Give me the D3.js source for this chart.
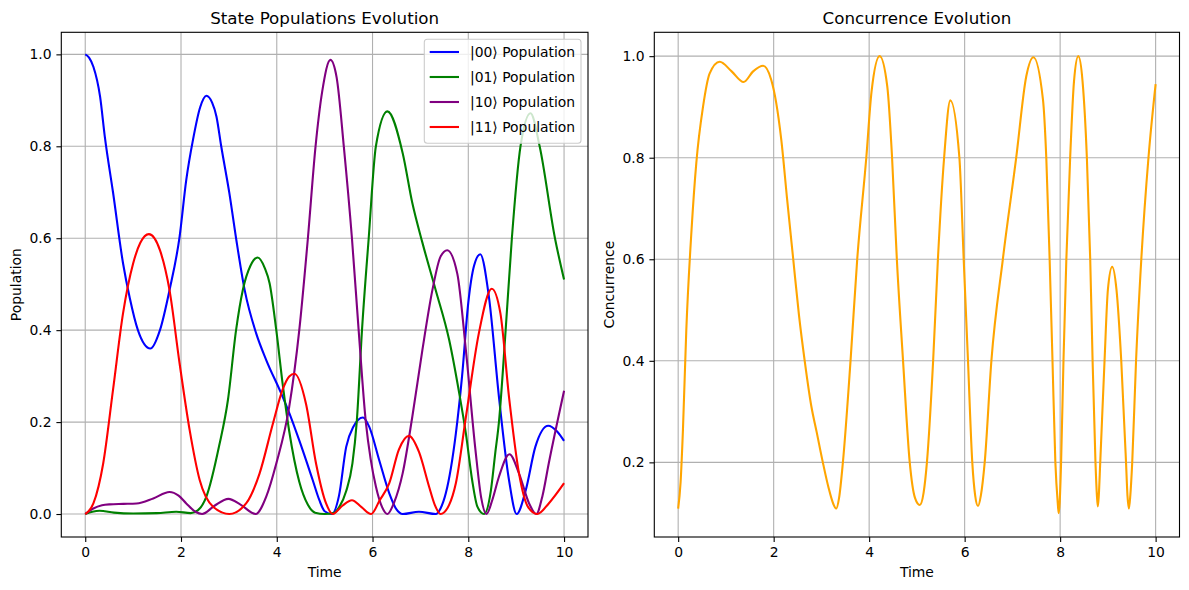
<!DOCTYPE html>
<html>
<head>
<meta charset="utf-8">
<script src="https://cdn.jsdelivr.net/npm/d3@7"></script>
<style>
  body { margin: 0; background: #fff; }
  svg { font-family: "DejaVu Sans", sans-serif; }
</style>
</head>
<body>
<div id="chart"></div>
<script>
// values, [time, value]
const pop00 = [[0,1.0],[0.08,0.993],[0.17,0.973],[0.31,0.908],[0.41,0.82],[0.58,0.70],[0.79,0.545],[0.93,0.47],[1.1,0.40],[1.36,0.36],[1.56,0.40],[1.76,0.487],[1.97,0.603],[2.11,0.727],[2.25,0.814],[2.4,0.885],[2.53,0.91],[2.65,0.895],[2.74,0.865],[2.84,0.8],[3.01,0.698],[3.15,0.6],[3.33,0.487],[3.57,0.393],[3.78,0.335],[4.09,0.263],[4.26,0.22],[4.47,0.16],[4.75,0.074],[4.89,0.03],[5.0,0.006],[5.15,0.0],[5.3,0.04],[5.45,0.146],[5.6,0.19],[5.8,0.21],[5.93,0.19],[6.14,0.117],[6.35,0.045],[6.5,0.01],[6.63,0.0],[6.97,0.005],[7.32,0.0],[7.42,0.012],[7.53,0.045],[7.74,0.175],[7.87,0.3],[8.0,0.46],[8.12,0.54],[8.25,0.565],[8.43,0.473],[8.64,0.255],[8.85,0.074],[9.01,0.0],[9.2,0.052],[9.4,0.146],[9.67,0.192],[9.85,0.18],[10,0.159]];
const pop01 = [[0,0],[0.15,0.005],[0.3,0.007],[0.6,0.003],[1.0,0.001],[1.5,0.002],[1.9,0.005],[2.2,0.002],[2.35,0.008],[2.53,0.038],[2.8,0.15],[2.98,0.248],[3.15,0.40],[3.29,0.487],[3.45,0.54],[3.6,0.558],[3.75,0.535],[3.85,0.502],[3.99,0.40],[4.13,0.277],[4.26,0.18],[4.47,0.07],[4.65,0.02],[4.8,0.003],[5.0,0.0],[5.2,0.003],[5.31,0.016],[5.45,0.05],[5.58,0.11],[5.67,0.2],[5.78,0.4],[5.92,0.6],[6.07,0.8],[6.31,0.876],[6.63,0.785],[6.83,0.677],[7.04,0.591],[7.32,0.487],[7.6,0.379],[7.81,0.263],[7.95,0.175],[8.08,0.074],[8.19,0.016],[8.33,0.0],[8.47,0.05],[8.56,0.13],[8.64,0.2],[8.78,0.4],[8.91,0.6],[9.09,0.8],[9.3,0.872],[9.49,0.8],[9.81,0.6],[10,0.51]];
const pop10 = [[0,0],[0.17,0.012],[0.35,0.019],[0.51,0.021],[0.8,0.022],[1.07,0.023],[1.42,0.034],[1.76,0.048],[1.95,0.04],[2.11,0.023],[2.3,0.005],[2.44,0.0],[2.7,0.018],[2.99,0.033],[3.25,0.02],[3.56,0.0],[3.78,0.038],[3.99,0.11],[4.26,0.233],[4.47,0.40],[4.65,0.6],[4.81,0.8],[4.95,0.92],[5.12,0.988],[5.25,0.95],[5.4,0.8],[5.57,0.6],[5.71,0.4],[5.86,0.2],[5.96,0.12],[6.07,0.06],[6.2,0.015],[6.31,0.0],[6.45,0.025],[6.63,0.089],[6.83,0.211],[7.04,0.356],[7.25,0.487],[7.42,0.56],[7.56,0.574],[7.77,0.523],[7.95,0.356],[8.15,0.139],[8.27,0.035],[8.38,0.0],[8.5,0.03],[8.64,0.081],[8.86,0.13],[9.06,0.088],[9.27,0.023],[9.42,0.0],[9.55,0.04],[9.68,0.11],[10,0.268]];
const pop11 = [[0,0],[0.17,0.023],[0.375,0.11],[0.58,0.27],[0.79,0.437],[1.0,0.545],[1.15,0.59],[1.33,0.609],[1.56,0.574],[1.76,0.487],[1.97,0.328],[2.18,0.183],[2.39,0.074],[2.67,0.016],[3.01,0.0],[3.36,0.023],[3.64,0.088],[3.92,0.197],[4.12,0.27],[4.26,0.299],[4.37,0.305],[4.61,0.24],[4.82,0.11],[5.03,0.023],[5.17,0.0],[5.37,0.018],[5.57,0.03],[5.77,0.015],[5.97,0.0],[6.15,0.03],[6.35,0.067],[6.55,0.14],[6.76,0.17],[6.97,0.135],[7.18,0.06],[7.3,0.02],[7.42,0.0],[7.6,0.02],[7.74,0.067],[7.95,0.211],[8.22,0.393],[8.49,0.49],[8.67,0.437],[8.85,0.255],[9.06,0.088],[9.25,0.015],[9.44,0.0],[9.68,0.023],[10,0.067]];
const concurrence = [[0,0.109],[0.05,0.16],[0.1,0.264],[0.17,0.46],[0.28,0.658],[0.38,0.79],[0.52,0.90],[0.66,0.966],[0.87,0.989],[1.12,0.97],[1.37,0.949],[1.57,0.97],[1.78,0.981],[1.95,0.953],[2.05,0.91],[2.16,0.835],[2.28,0.72],[2.41,0.6],[2.53,0.49],[2.65,0.4],[2.79,0.31],[2.9,0.26],[3.03,0.2],[3.15,0.15],[3.25,0.118],[3.31,0.109],[3.37,0.13],[3.45,0.2],[3.61,0.4],[3.75,0.6],[3.94,0.8],[4.05,0.93],[4.22,1.0],[4.38,0.94],[4.48,0.8],[4.58,0.6],[4.71,0.4],[4.85,0.2],[4.96,0.13],[5.06,0.116],[5.14,0.14],[5.21,0.2],[5.34,0.4],[5.44,0.6],[5.57,0.8],[5.7,0.913],[5.89,0.8],[5.98,0.6],[6.07,0.4],[6.16,0.2],[6.22,0.135],[6.28,0.114],[6.34,0.135],[6.42,0.2],[6.56,0.4],[6.8,0.6],[7.08,0.8],[7.29,0.96],[7.44,0.998],[7.64,0.915],[7.71,0.8],[7.78,0.6],[7.84,0.4],[7.9,0.2],[7.95,0.12],[7.97,0.1],[7.99,0.12],[8.02,0.2],[8.07,0.4],[8.13,0.6],[8.21,0.8],[8.29,0.95],[8.38,1.0],[8.47,0.95],[8.56,0.8],[8.63,0.6],[8.68,0.4],[8.74,0.2],[8.77,0.135],[8.79,0.113],[8.81,0.135],[8.84,0.2],[8.93,0.4],[9.0,0.54],[9.09,0.585],[9.18,0.54],[9.28,0.4],[9.38,0.2],[9.41,0.135],[9.44,0.109],[9.47,0.135],[9.51,0.2],[9.59,0.4],[9.7,0.6],[9.85,0.8],[10,0.945]];

const popSeries = [
  { name: '|00⟩ Population', color: 'blue', values: pop00 },
  { name: '|01⟩ Population', color: 'green', values: pop01 },
  { name: '|10⟩ Population', color: 'purple', values: pop10 },
  { name: '|11⟩ Population', color: 'red', values: pop11 },
];
const xTicks = [0, 2, 4, 6, 8, 10];
const popTicks = [0, 0.2, 0.4, 0.6, 0.8, 1.0];
const concTicks = [0.2, 0.4, 0.6, 0.8, 1.0];

const width = 1189;
const height = 590;
const fs = 13.9;

const svg = d3.select('#chart').append('svg')
  .attr('width', width)
  .attr('height', height);

svg.append('rect').attr('width', width).attr('height', height).attr('fill', '#fff');

function panel(box, id, yDomain, yTicks, title, yLabel) {
  const x = d3.scaleLinear().domain([-0.5, 10.5]).range([box.x0, box.x1]);
  const y = d3.scaleLinear().domain(yDomain).range([box.y1, box.y0]);

  const g = svg.append('g');

  // grid
  g.append('g').selectAll('line').data(xTicks).join('line')
    .attr('x1', d => x(d)).attr('x2', d => x(d))
    .attr('y1', box.y0).attr('y2', box.y1)
    .attr('stroke', '#b0b0b0').attr('stroke-width', 1.1);
  g.append('g').selectAll('line').data(yTicks).join('line')
    .attr('x1', box.x0).attr('x2', box.x1)
    .attr('y1', d => y(d)).attr('y2', d => y(d))
    .attr('stroke', '#b0b0b0').attr('stroke-width', 1.1);

  g.append('clipPath').attr('id', id)
    .append('rect')
    .attr('x', box.x0).attr('y', box.y0)
    .attr('width', box.x1 - box.x0).attr('height', box.y1 - box.y0);

  const xAxis = g.append('g')
    .attr('transform', `translate(0,${box.y1})`)
    .call(d3.axisBottom(x).tickValues(xTicks).tickFormat(d3.format('d')).tickSize(4.9).tickPadding(4.9));
  const yAxis = g.append('g')
    .attr('transform', `translate(${box.x0},0)`)
    .call(d3.axisLeft(y).tickValues(yTicks).tickFormat(d3.format('.1f')).tickSize(4.9).tickPadding(4.9));

  [xAxis, yAxis].forEach(a => {
    a.select('.domain').remove();
    a.selectAll('line').attr('stroke', '#000').attr('stroke-width', 1.1);
    a.selectAll('text').attr('fill', '#000').style('font-size', fs + 'px').style('font-family', 'DejaVu Sans');
  });

  g.append('rect')
    .attr('x', box.x0).attr('y', box.y0)
    .attr('width', box.x1 - box.x0).attr('height', box.y1 - box.y0)
    .attr('fill', 'none').attr('stroke', '#000').attr('stroke-width', 1.1);

  g.append('text')
    .attr('x', (box.x0 + box.x1) / 2).attr('y', 24)
    .attr('text-anchor', 'middle')
    .style('font-size', '16.7px')
    .text(title);

  g.append('text')
    .attr('x', (box.x0 + box.x1) / 2).attr('y', 577)
    .attr('text-anchor', 'middle')
    .style('font-size', fs + 'px')
    .text('Time');

  g.append('text')
    .attr('transform', `translate(${box.yl},${(box.y0 + box.y1) / 2}) rotate(-90)`)
    .attr('text-anchor', 'middle')
    .attr('dy', '0.35em')
    .style('font-size', fs + 'px')
    .text(yLabel);

  return { g, x, y };
}

const left = panel({ x0: 61.3, x1: 588, y0: 32.3, y1: 537, yl: 16 }, 'clipL',
  [-0.05, 1.048], popTicks, 'State Populations Evolution', 'Population');
const right = panel({ x0: 654.3, x1: 1179.5, y0: 32.3, y1: 537, yl: 609 }, 'clipR',
  [0.053, 1.047], concTicks, 'Concurrence Evolution', 'Concurrence');

const lineL = d3.line().x(d => left.x(d[0])).y(d => left.y(d[1])).curve(d3.curveMonotoneX);
left.g.append('g').attr('clip-path', 'url(#clipL)')
  .selectAll('path').data(popSeries).join('path')
  .attr('d', d => lineL(d.values))
  .attr('fill', 'none')
  .attr('stroke', d => d.color)
  .attr('stroke-width', 2.1);

const lineR = d3.line().x(d => right.x(d[0])).y(d => right.y(d[1])).curve(d3.curveMonotoneX);
right.g.append('path')
  .attr('clip-path', 'url(#clipR)')
  .attr('d', lineR(concurrence))
  .attr('fill', 'none')
  .attr('stroke', 'orange')
  .attr('stroke-width', 2.1);

// legend
const legend = left.g.append('g');
legend.append('rect')
  .attr('x', 424.3).attr('y', 39.3)
  .attr('width', 156.7).attr('height', 104)
  .attr('rx', 3)
  .attr('fill', '#fff').attr('fill-opacity', 0.8)
  .attr('stroke', '#cccccc').attr('stroke-width', 1.1);
const rows = legend.selectAll('g.row').data(popSeries).join('g')
  .attr('class', 'row')
  .attr('transform', (d, i) => `translate(0,${52 + i * 25})`);
rows.append('line')
  .attr('x1', 429.7).attr('x2', 459)
  .attr('stroke', d => d.color).attr('stroke-width', 2.1);
rows.append('text')
  .attr('x', 470).attr('dy', '0.35em')
  .style('font-size', fs + 'px')
  .text(d => d.name);
</script>
</body>
</html>
